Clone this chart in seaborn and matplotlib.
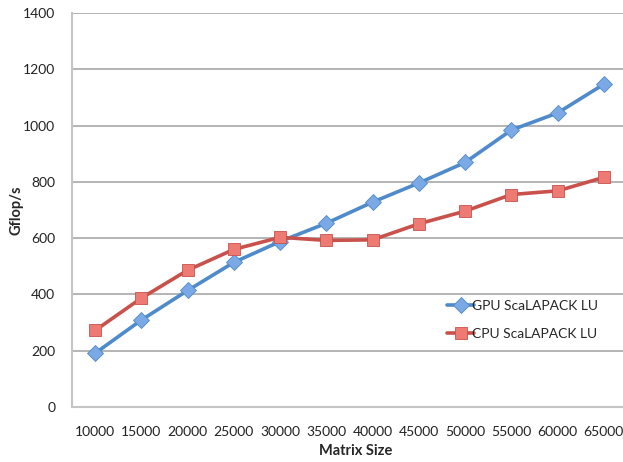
import numpy as np
import pandas as pd
import matplotlib
matplotlib.use("Agg")
import matplotlib.pyplot as plt
import seaborn as sns

# Values
matrix_sizes = ["10000", "15000", "20000", "25000", "30000", "35000",
                "40000", "45000", "50000", "55000", "60000", "65000"]
gpu_gflops = [191, 309, 414, 514, 588, 653, 728, 796, 869, 984, 1045, 1147]
cpu_gflops = [272, 387, 486, 560, 603, 592, 594, 651, 696, 755, 768, 816]
series_names = ["GPU ScaLAPACK LU", "CPU ScaLAPACK LU"]

df = pd.concat([
    pd.DataFrame({"size": matrix_sizes, "gflops": gpu_gflops, "series": series_names[0]}),
    pd.DataFrame({"size": matrix_sizes, "gflops": cpu_gflops, "series": series_names[1]}),
])

sns.set_style("white")
plt.rcParams["font.family"] = ["Lato", "DejaVu Sans"]

fig = plt.figure(figsize=(6.23, 4.62), dpi=100)
ax = fig.add_axes([72 / 623, 1 - 407 / 462, 555 / 623, 394 / 462])

line_colors = {series_names[0]: "#4f8acb", series_names[1]: "#c9514c"}
fills = {series_names[0]: "#7aa9e6", series_names[1]: "#ee7a74"}

sns.lineplot(data=df, x="size", y="gflops", hue="series", style="series",
             palette=line_colors, markers={series_names[0]: "D", series_names[1]: "s"},
             dashes=False, linewidth=2.6, sort=False, ax=ax, legend=False)

# seaborn draws one line per series in hue order
for line, name in zip(ax.get_lines(), series_names):
    line.set_markerfacecolor(fills[name])
    line.set_markeredgecolor(line_colors[name])
    line.set_markeredgewidth(0.6)
    line.set_markersize(8.5)
    line.set_label(name)

ax.set_ylim(0, 1400)
ax.set_yticks(np.arange(0, 1401, 200))
ax.set_xlim(-0.5, len(matrix_sizes) - 0.5)
ax.set_xticks(np.arange(len(matrix_sizes)))
ax.set_xticklabels(matrix_sizes)
ax.set_xticks(np.arange(len(matrix_sizes) + 1) - 0.5, minor=True)
ax.tick_params(axis="x", which="major", length=0, pad=14, labelsize=10, colors="#222222")
ax.tick_params(axis="x", which="minor", length=5, width=1, color="#bdbdbd", direction="out")
ax.tick_params(axis="y", length=5, width=1, color="#bdbdbd", direction="out",
               pad=7, labelsize=10, labelcolor="#222222")

ax.yaxis.grid(True, color="#a8a8a8", linewidth=1.2)
ax.xaxis.grid(False)
ax.set_axisbelow(True)
for side in ["top", "right"]:
    ax.spines[side].set_visible(False)
for side in ["left", "bottom"]:
    ax.spines[side].set_color("#c4c4c4")
    ax.spines[side].set_linewidth(1.5)

ax.set_xlabel("Matrix Size", fontsize=10.5, fontweight="bold")
ax.set_ylabel("Gflop/s", fontsize=10.5, fontweight="bold")
ax.xaxis.set_label_coords(0.512, -0.095)
ax.yaxis.set_label_coords(-0.087, 0.5)

ax.legend(loc="upper left", bbox_to_anchor=(0.665, 0.285), frameon=False,
          fontsize=10, handlelength=2.0, handletextpad=-0.2, labelspacing=1.1,
          borderaxespad=0)

fig.savefig("out.png", dpi=100)
